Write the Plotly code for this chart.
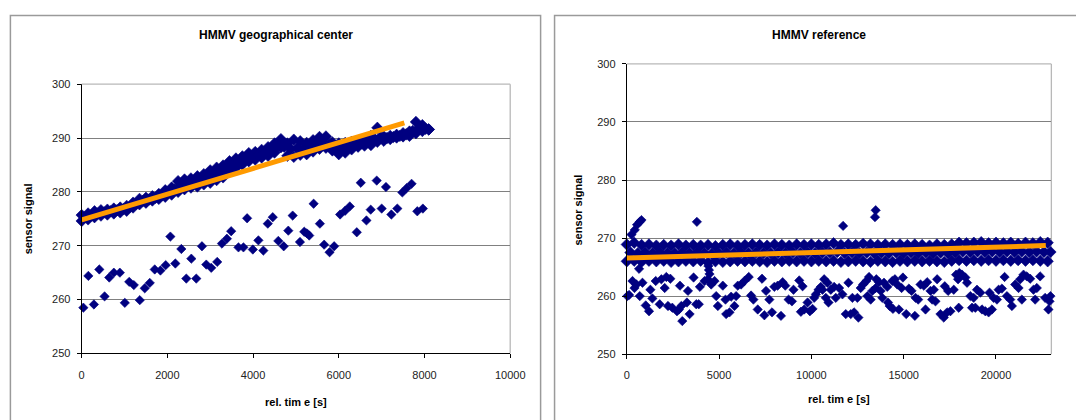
import plotly.graph_objects as go

W, H = 1076, 420

# ---------------- Left chart: HMMV geographical center ----------------
# dense band (three rows of points)
left_band_up_x = [0, 150, 300, 450, 600, 750, 900, 1050, 1200, 1350, 1500, 1650, 1800, 1950, 2100, 2250,
                  2400, 2550, 2700, 2850, 3000, 3150, 3300, 3450, 3600, 3750, 3900, 4050, 4200, 4350, 4500,
                  4650, 4800, 4950, 5100, 5250, 5400, 5550, 5700, 5850, 6000, 6150, 6300, 6450, 6600, 6750,
                  6900, 7050, 7200, 7350, 7500, 7650, 7800, 7950, 8100]
left_band_up_y = [275.7, 276.0, 276.4, 276.6, 276.7, 276.9, 277.1, 277.4, 278.0, 278.7, 278.9, 279.2, 279.6,
                  280.3, 280.8, 282.0, 282.3, 282.5, 282.9, 283.3, 284.0, 284.5, 284.9, 285.7, 286.2, 286.6,
                  287.2, 287.4, 287.8, 288.3, 289.0, 289.8, 289.0, 289.7, 289.4, 289.1, 289.6, 290.2, 290.3,
                  289.2, 289.0, 289.1, 289.3, 289.4, 289.8, 290.4, 291.9, 290.3, 290.4, 290.6, 290.9, 291.2,
                  293.0, 292.4, 291.6]
left_band_lo_y = [274.6, 274.9, 275.3, 275.6, 275.8, 276.0, 276.2, 276.5, 277.1, 277.7, 278.0, 278.4, 278.7,
                  279.1, 279.5, 280.0, 280.5, 280.8, 281.0, 281.4, 281.7, 282.2, 282.7, 283.9, 284.5, 285.1,
                  285.7, 286.0, 286.4, 286.7, 287.3, 288.3, 286.7, 286.5, 286.9, 287.0, 287.5, 288.0, 288.2,
                  287.7, 287.0, 287.3, 287.9, 288.4, 288.6, 288.7, 289.3, 289.5, 289.8, 290.1, 290.3, 290.4,
                  290.9, 291.3, 291.6]
left_band_mid_x = [75, 225, 375, 525, 675, 825, 975, 1125, 1275, 1425, 1575, 1725, 1875, 2025, 2175, 2325,
                   2475, 2625, 2775, 2925, 3075, 3225, 3375, 3525, 3675, 3825, 3975, 4125, 4275, 4425, 4575,
                   4725, 4875, 5025, 5175, 5325, 5475, 5625, 5775, 5925, 6075, 6225, 6375, 6525, 6675, 6825,
                   6975, 7125, 7275, 7425, 7575, 7725, 7875, 8025]
left_band_mid_y = [275.3, 275.6, 276.0, 276.2, 276.4, 276.6, 276.8, 277.2, 277.8, 278.3, 278.6, 278.9, 279.4,
                   279.9, 280.5, 281.2, 281.5, 281.8, 282.1, 282.6, 283.0, 283.5, 284.2, 285.0, 285.6, 286.1,
                   286.5, 286.9, 287.3, 287.8, 288.5, 288.4, 288.0, 288.1, 288.0, 288.3, 288.8, 289.1, 288.8,
                   288.2, 288.0, 288.4, 288.7, 289.0, 289.3, 289.9, 290.2, 290.0, 290.2, 290.4, 290.7, 291.3,
                   291.9, 291.7]
# scattered low points
left_out_x = [40, 156, 286, 412, 535, 644, 751, 891, 1007, 1110, 1217, 1356, 1472, 1589, 1705, 1838, 1961,
              2070, 2186, 2326, 2442, 2559, 2675, 2807, 2908, 3024, 3163, 3273, 3389, 3489, 3659, 3775, 3861,
              3994, 4124, 4240, 4343, 4459, 4589, 4715, 4822, 4924, 5094, 5194, 5257, 5310, 5413, 5559, 5659,
              5785, 5892, 6031, 6148, 6257, 6420, 6513, 6645, 6745, 6885, 7001, 7101, 7227, 7366, 7483, 7583,
              7699, 7832, 7962]
left_out_y = [258.5, 264.4, 259.1, 265.6, 260.6, 264.1, 265.0, 265.0, 259.4, 263.3, 262.7, 259.9, 262.1,
              263.1, 265.6, 265.4, 266.4, 271.7, 266.7, 269.4, 263.9, 267.6, 263.9, 269.9, 266.5, 265.9,
              267.0, 270.4, 271.3, 272.7, 269.7, 269.7, 275.1, 269.3, 271.0, 269.1, 274.1, 275.3, 270.9,
              269.9, 272.8, 275.6, 270.7, 272.6, 272.3, 271.9, 277.8, 274.1, 270.2, 268.8, 269.9, 275.8,
              276.5, 277.3, 272.5, 281.7, 274.7, 276.7, 282.1, 276.9, 280.9, 275.8, 276.9, 279.9, 280.7,
              281.5, 276.4, 276.9]
left_trend_x = [0, 7530]
left_trend_y = [274.8, 292.8]
left_x_ticks = [0, 2000, 4000, 6000, 8000, 10000]
left_y_ticks = [250, 260, 270, 280, 290, 300]

# ---------------- Right chart: HMMV reference ----------------
right_band_x = [0, 400, 800, 1200, 1600, 2000, 2400, 2800, 3200, 3600, 4000, 4400, 4800, 5200, 5600, 6000,
                6400, 6800, 7200, 7600, 8000, 8400, 8800, 9200, 9600, 10000, 10400, 10800, 11200, 11600,
                12000, 12400, 12800, 13200, 13600, 14000, 14400, 14800, 15200, 15600, 16000, 16400, 16800,
                17200, 17600, 18000, 18400, 18800, 19200, 19600, 20000, 20400, 20800, 21200, 21600, 22000,
                22400, 22800]
right_band_up_y = [268.9, 269.2, 268.8, 268.9, 268.7, 268.8, 268.7, 268.9, 268.7, 268.8, 268.7, 268.8,
                   268.6, 268.8, 268.9, 268.7, 268.8, 268.9, 268.8, 268.7, 268.9, 268.8, 268.7, 268.9,
                   268.8, 268.9, 268.8, 268.9, 269.1, 268.8, 268.9, 268.8, 269.0, 268.9, 268.8, 268.9,
                   268.8, 268.9, 268.8, 268.9, 268.8, 268.7, 268.9, 268.8, 268.9, 269.2, 269.1, 269.2,
                   269.3, 269.1, 269.2, 269.1, 269.2, 269.0, 269.2, 269.1, 269.3, 269.2]
right_band_lo_y = [266.0, 266.1, 265.9, 266.1, 266.0, 266.1, 265.9, 266.0, 266.1, 266.0, 266.1, 265.8,
                   266.0, 265.9, 266.0, 266.1, 266.0, 266.1, 266.0, 265.9, 266.1, 266.0, 266.1, 266.0,
                   266.1, 266.0, 266.1, 266.0, 266.1, 265.9, 266.0, 266.1, 266.0, 265.9, 266.1, 266.0,
                   265.9, 266.1, 266.0, 266.1, 266.0, 266.1, 266.0, 265.9, 266.1, 266.2, 266.1, 266.2,
                   266.1, 266.2, 266.1, 266.2, 266.1, 266.2, 266.1, 266.2, 266.1, 266.0]
right_band_mid_x = [200, 600, 1000, 1400, 1800, 2200, 2600, 3000, 3400, 3800, 4200, 4600, 5000, 5400, 5800,
                    6200, 6600, 7000, 7400, 7800, 8200, 8600, 9000, 9400, 9800, 10200, 10600, 11000, 11400,
                    11800, 12200, 12600, 13000, 13400, 13800, 14200, 14600, 15000, 15400, 15800, 16200,
                    16600, 17000, 17400, 17800, 18200, 18600, 19000, 19400, 19800, 20200, 20600, 21000,
                    21400, 21800, 22200, 22600, 22950]
right_band_mid_y = [267.5, 267.4, 267.5, 267.4, 267.5, 267.4, 267.4, 267.5, 267.4, 267.5, 267.4, 267.3,
                    267.4, 267.5, 267.4, 267.5, 267.4, 267.5, 267.4, 267.4, 267.5, 267.4, 267.5, 267.4,
                    267.5, 267.4, 267.5, 267.5, 267.6, 267.4, 267.5, 267.4, 267.5, 267.4, 267.5, 267.4,
                    267.5, 267.4, 267.5, 267.4, 267.5, 267.4, 267.5, 267.4, 267.5, 267.7, 267.6, 267.7,
                    267.6, 267.7, 267.6, 267.7, 267.6, 267.7, 267.6, 267.7, 267.6, 267.6]
right_out_x = [253, 432, 556, 702, 794, 3796, 11718, 13446, 13482, 664, 4420, 4450, 4480, 30,
               124, 308, 416, 524, 702, 848, 1026, 1204, 1278, 1386, 1566, 1782, 1872, 2052, 2142, 2232,
               2358, 2466, 2718, 2826, 2880, 2952, 3006, 3258, 3312, 3402, 3618, 3762, 3900, 3960, 4212,
               4392, 4572, 4752, 4842, 4932, 5202, 5346, 5382, 5562, 5652, 5832, 5922, 6012, 6192, 6372,
               6606, 6732, 6858, 7092, 7326, 7452, 7542, 7722, 7866, 7992, 8172, 8352, 8442, 8586, 8766,
               8946, 9030, 9342, 9432, 9522, 9612, 9792, 9918, 10062, 10152, 10242, 10386, 10512, 10602,
               10692, 10782, 10872, 10926, 11052, 11232, 11322, 11502, 11682, 11862, 12006, 12132, 12222,
               12312, 12492, 12546, 12672, 12798, 12978, 13032, 13122, 13212, 13302, 13482, 13518, 13662,
               13752, 13842, 13932, 14112, 14150, 14238, 14382, 14418, 14526, 14652, 14742, 14886, 14958,
               15138, 15282, 15426, 15606, 15642, 15786, 15912, 16092, 16182, 16272, 16452, 16542, 16632,
               16722, 16812, 16992, 17172, 17226, 17352, 17406, 17532, 17712, 17838, 17946, 17982, 18018,
               18162, 18342, 18432, 18612, 18702, 18792, 18882, 18972, 19152, 19242, 19422, 19602, 19650,
               19782, 19872, 20052, 20142, 20322, 20466, 20592, 20772, 20862, 21042, 21222, 21312, 21402,
               21492, 21672, 21852, 22032, 22122, 22212, 22392, 22662, 22842, 22900, 22950]
right_out_y = [270.6, 271.4, 272.3, 272.8, 273.1, 272.8, 272.1, 273.6, 274.8, 264.7, 265.2, 264.5, 263.8, 260.0,
               260.2, 262.6, 261.4, 262.0, 260.0, 262.3, 258.4, 257.4, 261.1, 259.6, 262.6, 258.6, 262.9,
               261.4, 263.3, 258.3, 263.0, 258.0, 257.4, 257.7, 261.8, 258.3, 255.7, 258.9, 260.9, 256.9,
               263.2, 258.6, 258.6, 261.6, 262.6, 262.9, 262.0, 262.6, 260.0, 258.3, 261.8, 259.4, 256.9,
               257.2, 259.9, 258.3, 260.0, 261.8, 262.0, 262.6, 263.3, 260.1, 259.4, 257.7, 263.0, 256.7,
               260.9, 259.4, 257.2, 261.6, 261.8, 256.6, 262.4, 261.8, 259.4, 259.1, 261.1, 262.7, 257.3,
               261.7, 257.7, 258.9, 257.4, 257.8, 259.7, 260.3, 261.1, 261.6, 261.1, 262.9, 259.7, 262.3,
               258.9, 261.1, 261.6, 259.7, 261.4, 260.3, 256.9, 262.3, 256.9, 259.7, 257.2, 259.7, 256.3,
               261.4, 262.0, 262.6, 260.0, 263.3, 259.4, 260.9, 261.4, 262.9, 262.4, 260.9, 259.7, 262.3,
               261.6, 258.9, 258.3, 262.6, 257.8, 262.9, 262.0, 257.7, 261.4, 263.2, 256.9, 261.3, 260.9,
               256.6, 259.7, 259.4, 262.0, 261.8, 257.7, 262.4, 260.9, 259.4, 261.1, 259.1, 262.9, 256.9,
               256.3, 261.7, 257.2, 260.9, 257.4, 261.1, 263.7, 262.9, 258.0, 264.0, 263.7, 263.2, 262.3,
               260.0, 258.0, 259.7, 258.0, 261.1, 260.6, 257.7, 257.4, 257.2, 260.6, 257.7, 259.7, 259.4,
               261.1, 261.3, 263.3, 260.0, 259.4, 258.3, 262.0, 261.4, 262.9, 259.4, 263.7, 263.4, 263.0,
               261.1, 259.4, 261.4, 263.4, 259.7, 257.7, 259.1, 260.0]
right_trend_x = [0, 22700]
right_trend_y = [266.55, 268.7]
right_x_ticks = [0, 5000, 10000, 15000, 20000]
right_y_ticks = [250, 260, 270, 280, 290, 300]

NAVY = "#000080"
ORANGE = "#FF9A00"
FONT = "Liberation Sans, Arial, sans-serif"


# page position (px from left / top) -> paper fraction
def fx(px):
    return (px - 1.07) / 1061.6


def fy(py):
    return 1 - (py - 5.9) / 409.1


fig = go.Figure()


def add_pts(x, y, xa, ya, size):
    fig.add_trace(go.Scatter(x=x, y=y, mode="markers", xaxis=xa, yaxis=ya, cliponaxis=False,
                             marker=dict(symbol="diamond", size=size, color=NAVY,
                                         line=dict(width=0.6, color=NAVY)),
                             showlegend=False, hoverinfo="x+y"))


BAND = 8.8
OUT = 7.2
add_pts(left_band_up_x, left_band_up_y, "x", "y", BAND)
add_pts(left_band_up_x, left_band_lo_y, "x", "y", BAND)
add_pts(left_band_mid_x, left_band_mid_y, "x", "y", BAND)
add_pts(left_out_x, left_out_y, "x", "y", OUT)
fig.add_trace(go.Scatter(x=left_trend_x, y=left_trend_y, mode="lines", xaxis="x", yaxis="y",
                         line=dict(color=ORANGE, width=5), showlegend=False))

add_pts(right_band_x, right_band_up_y, "x2", "y2", BAND)
add_pts(right_band_x, right_band_lo_y, "x2", "y2", BAND)
add_pts(right_band_mid_x, right_band_mid_y, "x2", "y2", BAND)
add_pts(right_out_x, right_out_y, "x2", "y2", OUT)
fig.add_trace(go.Scatter(x=right_trend_x, y=right_trend_y, mode="lines", xaxis="x2", yaxis="y2",
                         line=dict(color=ORANGE, width=5), showlegend=False))

tickfont = dict(family=FONT, size=11, color="#222222")
common_x = dict(showgrid=False, zeroline=False, showline=True, linecolor="#000000", linewidth=1,
                ticks="outside", ticklen=4, tickcolor="#000000", tickfont=tickfont, ticklabelstandoff=7,
                tickformat="d")
common_y = dict(showgrid=True, gridcolor="#808080", gridwidth=1.3, zeroline=False, showline=True,
                linecolor="#000000", linewidth=1, ticks="outside", ticklen=4, tickcolor="#000000",
                tickfont=tickfont, ticklabelstandoff=4, tickformat="d")

ly0, ly1 = fy(354.3), fy(84.3)
ry0, ry1 = fy(355), fy(64)
lx0, lx1 = fx(80), fx(510)
rx0, rx1 = fx(627), fx(1053)

fig.update_layout(
    width=W, height=H, autosize=False, margin=dict(l=0, r=0, t=0, b=0),
    paper_bgcolor="white", plot_bgcolor="white",
    xaxis=dict(domain=[lx0, lx1], anchor="y", range=[0, 10000], tickvals=left_x_ticks, **common_x),
    yaxis=dict(domain=[ly0, ly1], anchor="x", range=[250, 300], tickvals=left_y_ticks, **common_y),
    xaxis2=dict(domain=[rx0, rx1], anchor="y2", range=[0, 23000], tickvals=right_x_ticks, **common_x),
    yaxis2=dict(domain=[ry0, ry1], anchor="x2", range=[250, 300], tickvals=right_y_ticks, **common_y),
)

shapes = [
    # panel frames
    dict(type="rect", xref="paper", yref="paper", x0=fx(8.5), x1=fx(540.5), y0=-0.1, y1=fy(15.5),
         line=dict(color="#9a9a9a", width=1.5), fillcolor="rgba(0,0,0,0)", layer="below"),
    dict(type="rect", xref="paper", yref="paper", x0=fx(554.5), x1=1.1, y0=-0.1, y1=fy(15.5),
         line=dict(color="#9a9a9a", width=1.5), fillcolor="rgba(0,0,0,0)", layer="below"),
    # plot-area border top/right (light grey)
    dict(type="line", xref="paper", yref="paper", x0=lx0, x1=lx1, y0=ly1, y1=ly1,
         line=dict(color="#b8b8b8", width=1.3)),
    dict(type="line", xref="paper", yref="paper", x0=lx1, x1=lx1, y0=ly0, y1=ly1,
         line=dict(color="#b8b8b8", width=1.3), layer="below"),
    dict(type="line", xref="paper", yref="paper", x0=rx0, x1=rx1, y0=ry1, y1=ry1,
         line=dict(color="#b8b8b8", width=1.3)),
    dict(type="line", xref="paper", yref="paper", x0=rx1, x1=rx1, y0=ry0, y1=ry1,
         line=dict(color="#b8b8b8", width=1.3), layer="below"),
]
fig.update_layout(shapes=shapes)

ann = []
ann.append(dict(text="<b>HMMV geographical center</b>", x=fx(275), y=fy(35), xref="paper", yref="paper",
                showarrow=False, font=dict(family=FONT, size=12, color="#000000"), xanchor="center", yanchor="middle"))
ann.append(dict(text="<b>HMMV reference</b>", x=fx(820), y=fy(35), xref="paper", yref="paper",
                showarrow=False, font=dict(family=FONT, size=12, color="#000000"), xanchor="center", yanchor="middle"))
for xc, yc in [(26, 219), (578, 210)]:
    ann.append(dict(text="<b>sensor signal</b>", x=fx(xc), y=fy(yc), xref="paper", yref="paper",
                    showarrow=False, textangle=-90, font=dict(family=FONT, size=11, color="#000000"),
                    xanchor="center", yanchor="middle"))
for xc, yc in [(295, 403), (840, 400)]:
    ann.append(dict(text="<b>rel. tim e [s]</b>", x=fx(xc), y=fy(yc), xref="paper", yref="paper",
                    showarrow=False, font=dict(family=FONT, size=11, color="#000000"),
                    xanchor="center", yanchor="middle"))
fig.update_layout(annotations=ann)

post = ("document.documentElement.style.overflow='hidden';"
        "document.body.style.margin='0';document.body.style.overflow='hidden';")
fig.write_html("out.html", config={"responsive": False}, post_script=post)
